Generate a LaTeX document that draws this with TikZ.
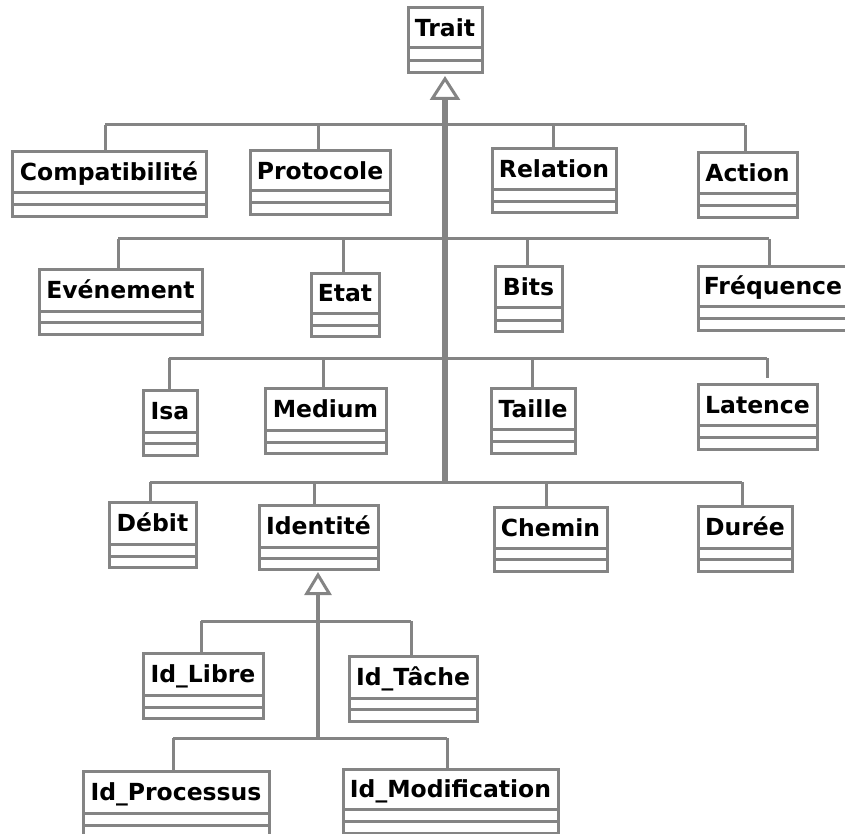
\documentclass[tikz,border=0pt]{standalone}
\usepackage{fontspec}
\setmainfont{DejaVu Sans}
\usetikzlibrary{arrows.meta}

\definecolor{umlgray}{RGB}{132,132,132}

% One UML class: name, left, top, right, first separator, second separator, bottom, label
\newcommand\umlclass[8]{%
  \node[classbox, minimum width={(#4-#2)*1pt}, minimum height={(#7-#3)*1pt}]
    (#1) at ({(#2+#4)/2},{(#3+#7)/2}) {};
  \node[classname] (#1-name) at ({(#2+#4)/2},{(#3+#5)/2+8.5}) {#8};
  \draw[boxline] (#2,#5) -- (#4,#5) (#2,#6) -- (#4,#6);
}

\tikzset{
  classbox/.style={draw=umlgray, line width=3pt, fill=white, inner sep=0pt, outer sep=0pt},
  classname/.style={anchor=base, inner sep=0pt, font=\fontsize{23.5}{26}\selectfont\bfseries},
  boxline/.style={draw=umlgray, line width=3pt},
  link/.style={draw=umlgray, line width=3pt},
  trunk/.style={draw=umlgray, line width=6pt},
  subtrunk/.style={draw=umlgray, line width=3.5pt},
  inherit/.style 2 args={-{Triangle[length=#1, width=#2, line width=3pt, fill=white]}},
}

\begin{document}
\begin{tikzpicture}[x=1pt, y=-1pt]
\useasboundingbox (0,0) rectangle (845,834);
\clip (0,0) rectangle (845,834);

% branch points on each row line
\coordinate (r1a) at (105,125); \coordinate (r1b) at (318,125);
\coordinate (r1c) at (553,125); \coordinate (r1d) at (745,125);
\coordinate (r2a) at (118,239); \coordinate (r2b) at (343,239);
\coordinate (r2c) at (527,239); \coordinate (r2d) at (769,239);
\coordinate (r3a) at (169,358); \coordinate (r3b) at (323,358);
\coordinate (r3c) at (532,358); \coordinate (r3d) at (767,358);
\coordinate (r4a) at (150,482); \coordinate (r4b) at (314,482);
\coordinate (r4c) at (546,482); \coordinate (r4d) at (742,482);
\coordinate (r5a) at (201,621); \coordinate (r5b) at (411,621);
\coordinate (r6a) at (173,738); \coordinate (r6b) at (447,738);

% classes
\umlclass{trait}{408}{8}{482}{48}{61}{73}{Trait}
\umlclass{compat}{12}{152}{206}{193}{205}{217}{Compatibilité}
\umlclass{protocole}{250}{151}{390}{191}{203}{215}{Protocole}
\umlclass{relation}{492}{149}{616}{190}{202}{213}{Relation}
\umlclass{action}{698}{153}{797}{194}{206}{218}{Action}
\umlclass{evenement}{39}{269}{202}{311}{322}{334}{Evénement}
\umlclass{etat}{311}{273}{379}{313}{325}{336}{Etat}
\umlclass{bits}{495}{266}{562}{307}{320}{331}{Bits}
\umlclass{frequence}{698}{266}{848}{306}{318}{330}{Fréquence}
\umlclass{isa}{143}{390}{197}{432}{443}{455}{Isa}
\umlclass{medium}{265}{388}{386}{430}{442}{453}{Medium}
\umlclass{taille}{491}{388}{575}{429}{441}{453}{Taille}
\umlclass{latence}{698}{384}{817}{425}{437}{449}{Latence}
\umlclass{debit}{109}{502}{196}{544}{556}{567}{Débit}
\umlclass{identite}{259}{505}{378}{547}{558}{569}{Identité}
\umlclass{chemin}{494}{507}{607}{548}{559}{571}{Chemin}
\umlclass{duree}{698}{506}{792}{548}{559}{571}{Durée}
\umlclass{idlibre}{143}{653}{263}{695}{707}{718}{Id\_Libre}
\umlclass{idtache}{349}{656}{477}{698}{709}{721}{Id\_Tâche}
\umlclass{idproc}{83}{771}{269}{813}{825}{838}{Id\_Processus}
\umlclass{idmodif}{343}{769}{558}{809}{821}{833}{Id\_Modification}

% row lines
\draw[link] (r1a) -- (r1d);
\draw[link] (r2a) -- (r2d);
\draw[link] (r3a) -- (r3d);
\draw[link] (r4a) -- (r4d);
\draw[link] (r5a) -- (r5b);
\draw[link] (r6a) -- (r6b);

% branches down to the classes
\draw[link] (r1a) -- (r1a |- compat.north);
\draw[link] (r1b) -- (r1b |- protocole.north);
\draw[link] (r1c) -- (r1c |- relation.north);
\draw[link] (r1d) -- (r1d |- action.north);
\draw[link] (r2a) -- (r2a |- evenement.north);
\draw[link] (r2b) -- (r2b |- etat.north);
\draw[link] (r2c) -- (r2c |- bits.north);
\draw[link] (r2d) -- (r2d |- frequence.north);
\draw[link] (r3a) -- (r3a |- isa.north);
\draw[link] (r3b) -- (r3b |- medium.north);
\draw[link] (r3c) -- (r3c |- taille.north);
\draw[link, shorten >=6pt] (r3d) -- (r3d |- latence.north);
\draw[link] (r4a) -- (r4a |- debit.north);
\draw[link] (r4b) -- (r4b |- identite.north);
\draw[link] (r4c) -- (r4c |- chemin.north);
\draw[link] (r4d) -- (r4d |- duree.north);
\draw[link] (r5a) -- (r5a |- idlibre.north);
\draw[link] (r5b) -- (r5b |- idtache.north);
\draw[link] (r6a) -- (r6a |- idproc.north);
\draw[link] (r6b) -- (r6b |- idmodif.north);

% generalisation trunks
\coordinate (traitfoot) at (trait.south |- r4a);
\coordinate (identfoot) at (318,738);
\draw[trunk, inherit={24pt}{30pt}, shorten >=3pt] (traitfoot) -- (trait.south);
\draw[subtrunk, inherit={23pt}{27pt}, shorten >=3pt] (identfoot) -- (identfoot |- identite.south);
\end{tikzpicture}
\end{document}
